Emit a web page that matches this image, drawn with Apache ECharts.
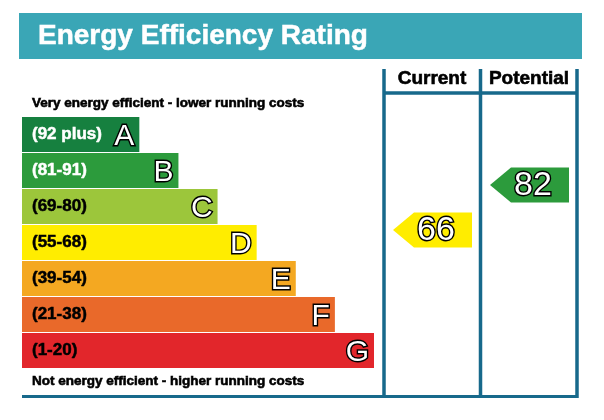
<!DOCTYPE html>
<html>
<head>
<meta charset="utf-8">
<script src="https://cdn.jsdelivr.net/npm/echarts@6/dist/echarts.min.js"></script>
<style>
  html, body { margin: 0; padding: 0; background: #fff; }
  #chart { width: 604px; height: 420px; }
</style>
</head>
<body>
<div id="chart"></div>
<script>
// rating bands, top (best) to bottom (worst)
const bandLetters = ['A', 'B', 'C', 'D', 'E', 'F', 'G'];
const bandRanges = ['(92 plus)', '(81-91)', '(69-80)', '(55-68)', '(39-54)', '(21-38)', '(1-20)'];
const bandMin = [92, 81, 69, 55, 39, 21, 1];
const bandMax = [100, 91, 80, 68, 54, 38, 20];
const bandLength = [3, 4, 5, 6, 7, 8, 9];
const currentRating = 66;
const potentialRating = 82;

const bandColors = ['#16803f', '#2c9b3c', '#9cc63b', '#ffed00', '#f4a821', '#e9692a', '#e2262b'];
const FONT = '"Liberation Sans", Arial, sans-serif';
const FRAME = '#17698b';

// which band a score falls into, and where inside the band (0 = top of A)
function bandIndex(score) {
    for (let i = 0; i < bandMin.length; i++) {
        if (score >= bandMin[i]) return i;
    }
    return bandMin.length - 1;
}
function bandPos(score) {
    const i = bandIndex(score);
    return i + (bandMax[i] - score) / (bandMax[i] - bandMin[i]);
}

function renderArrow(params, api) {
    const pos = api.value(1);
    const p0 = api.coord([0, pos]);
    const p1 = api.coord([1, pos]);
    const h = 35, tip = 21, cy = p0[1];
    const score = api.value(2);
    return {
        type: 'group',
        children: [{
            type: 'polygon',
            shape: { points: [[p0[0], cy], [p0[0] + tip, cy - h / 2], [p1[0], cy - h / 2], [p1[0], cy + h / 2], [p0[0] + tip, cy + h / 2]] },
            style: { fill: bandColors[bandIndex(score)] }
        }, {
            type: 'text',
            style: {
                text: String(score), x: p0[0] + 43, y: cy + 1,
                align: 'center', verticalAlign: 'middle',
                fontSize: 34, fontFamily: FONT,
                fill: '#fff', stroke: '#000', lineWidth: 2.8
            }
        }]
    };
}

// plain bold black text, a little heavier than the font alone
function boldText(text, x, y, size, align) {
    return {
        type: 'text', x: x, y: y,
        style: {
            text: text, fill: '#000', fontSize: size, fontWeight: 'bold', fontFamily: FONT,
            align: align || 'left', verticalAlign: 'middle', stroke: '#000', lineWidth: 0.6
        }
    };
}

const colGrid = (left) => ({ left: left, width: 79, top: 116.5, height: 252 });
const hiddenVal = (idx, max, extra) => Object.assign({ type: 'value', gridIndex: idx, min: 0, max: max, show: false }, extra || {});

var myChart = echarts.init(document.getElementById('chart'));
myChart.setOption({
    animation: false,
    grid: [
        { left: 22, width: 352, top: 116.5, height: 252 },
        colGrid(393),
        colGrid(490)
    ],
    xAxis: [hiddenVal(0, 9), hiddenVal(1, 1), hiddenVal(2, 1)],
    yAxis: [
        { type: 'category', gridIndex: 0, data: bandLetters, inverse: true, show: false },
        hiddenVal(1, 7, { inverse: true }),
        hiddenVal(2, 7, { inverse: true })
    ],
    graphic: [
        { type: 'rect', shape: { x: 19, y: 13, width: 563, height: 46 }, style: { fill: '#3aa6b6' } },
        { type: 'text', x: 38, y: 36, style: { text: 'Energy Efficiency Rating', fill: '#fff', fontSize: 28, fontWeight: 'bold', fontFamily: FONT, verticalAlign: 'middle', stroke: '#fff', lineWidth: 0.5 } },
        boldText('Very energy efficient - lower running costs', 32, 103, 13.5),
        boldText('Not energy efficient - higher running costs', 32, 381, 13.5),
        boldText('Current', 432, 79, 19, 'center'),
        boldText('Potential', 529, 79, 19, 'center'),
        { type: 'line', shape: { x1: 384, y1: 69, x2: 384, y2: 398 }, style: { stroke: FRAME, lineWidth: 3.5 } },
        { type: 'line', shape: { x1: 480.5, y1: 69, x2: 480.5, y2: 398 }, style: { stroke: FRAME, lineWidth: 3.5 } },
        { type: 'line', shape: { x1: 577, y1: 69, x2: 577, y2: 398 }, style: { stroke: FRAME, lineWidth: 3.5 } },
        { type: 'line', shape: { x1: 384, y1: 93, x2: 577, y2: 93 }, style: { stroke: FRAME, lineWidth: 3.5 } },
        { type: 'line', shape: { x1: 22, y1: 396.5, x2: 578, y2: 396.5 }, style: { stroke: FRAME, lineWidth: 3 } }
    ],
    series: [{
        type: 'bar',
        xAxisIndex: 0, yAxisIndex: 0,
        barWidth: 35,
        silent: true,
        // A and B labels are white on the dark greens
        data: bandLength.map((v, i) => ({
            value: v,
            itemStyle: { color: bandColors[i] },
            label: { color: i < 2 ? '#fff' : '#000', textBorderColor: i < 2 ? '#fff' : '#000' }
        })),
        label: {
            show: true,
            position: 'insideLeft',
            distance: 10,
            fontSize: 17, fontWeight: 'bold', fontFamily: FONT,
            formatter: p => bandRanges[p.dataIndex],
            textBorderWidth: 0.5
        }
    }, {
        type: 'bar',
        xAxisIndex: 0, yAxisIndex: 0,
        barWidth: 35,
        barGap: '-100%',
        silent: true,
        data: bandLength,
        itemStyle: { color: 'rgba(0,0,0,0)' },
        label: {
            show: true,
            position: 'insideRight',
            distance: 5,
            offset: [0, 2],
            fontSize: 30, fontFamily: FONT,
            formatter: p => bandLetters[p.dataIndex],
            color: '#fff', textBorderColor: '#000', textBorderWidth: 2.8
        }
    }, {
        type: 'custom',
        xAxisIndex: 1, yAxisIndex: 1,
        renderItem: renderArrow,
        data: [[0, bandPos(currentRating), currentRating]]
    }, {
        type: 'custom',
        xAxisIndex: 2, yAxisIndex: 2,
        renderItem: renderArrow,
        data: [[0, bandPos(potentialRating), potentialRating]]
    }]
});
</script>
</body>
</html>
